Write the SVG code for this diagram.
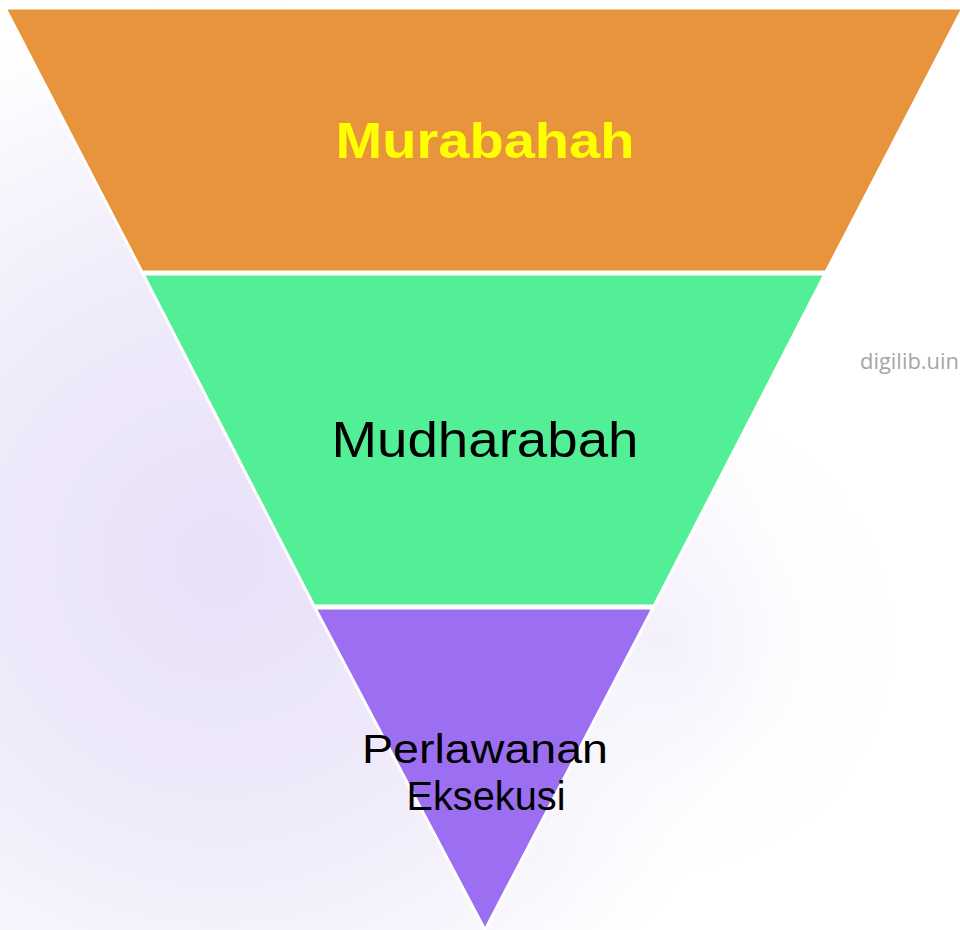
<svg xmlns="http://www.w3.org/2000/svg" width="960" height="930" viewBox="0 0 960 930">
  <defs>
    <radialGradient id="bg1" cx="220" cy="560" r="560" gradientUnits="userSpaceOnUse">
      <stop offset="0" stop-color="#e8e0f8"/>
      <stop offset="0.55" stop-color="#f1edfb"/>
      <stop offset="1" stop-color="#ffffff"/>
    </radialGradient>
    <radialGradient id="bg2" cx="660" cy="640" r="240" gradientUnits="userSpaceOnUse">
      <stop offset="0" stop-color="#f3f0fc"/>
      <stop offset="1" stop-color="#ffffff" stop-opacity="0"/>
    </radialGradient>
    <style>
      .band { stroke: #ffffff; stroke-width: 3; stroke-linejoin: miter; }
      .lbl { font-family: "Liberation Sans", "DejaVu Sans", sans-serif; text-anchor: middle; }
    </style>
  </defs>
  <rect x="0" y="0" width="960" height="930" fill="#ffffff"/>
  <rect x="0" y="0" width="960" height="930" fill="url(#bg1)"/>
  <rect x="0" y="0" width="960" height="930" fill="url(#bg2)"/>
  <text x="860" y="369" font-family="'Open Sans', 'Liberation Sans', sans-serif" font-size="21" fill="#a6a6a6" textLength="99" lengthAdjust="spacingAndGlyphs">digilib.uin</text>

  <g id="murabahah">
    <polygon class="band" fill="#e8943c" points="5,8 963,8 826,272 142,272"/>
    <text class="lbl" x="485" y="158" font-size="50" font-weight="bold" fill="#ffff00" textLength="299" lengthAdjust="spacingAndGlyphs">Murabahah</text>
  </g>
  <g id="mudharabah">
    <polygon class="band" fill="#52ef96" points="143,274 825,274 654,606 314,606"/>
    <text class="lbl" x="485" y="457" font-size="50" fill="#000000" textLength="307" lengthAdjust="spacingAndGlyphs">Mudharabah</text>
  </g>
  <g id="perlawanan">
    <polygon class="band" fill="#9b6ef2" points="315,608 653,608 485,930"/>
    <text class="lbl" x="485" y="763" font-size="41" fill="#000000" textLength="246" lengthAdjust="spacingAndGlyphs">Perlawanan</text>
    <text class="lbl" x="486" y="810" font-size="41" fill="#000000" textLength="159" lengthAdjust="spacingAndGlyphs">Eksekusi</text>
  </g>
</svg>
